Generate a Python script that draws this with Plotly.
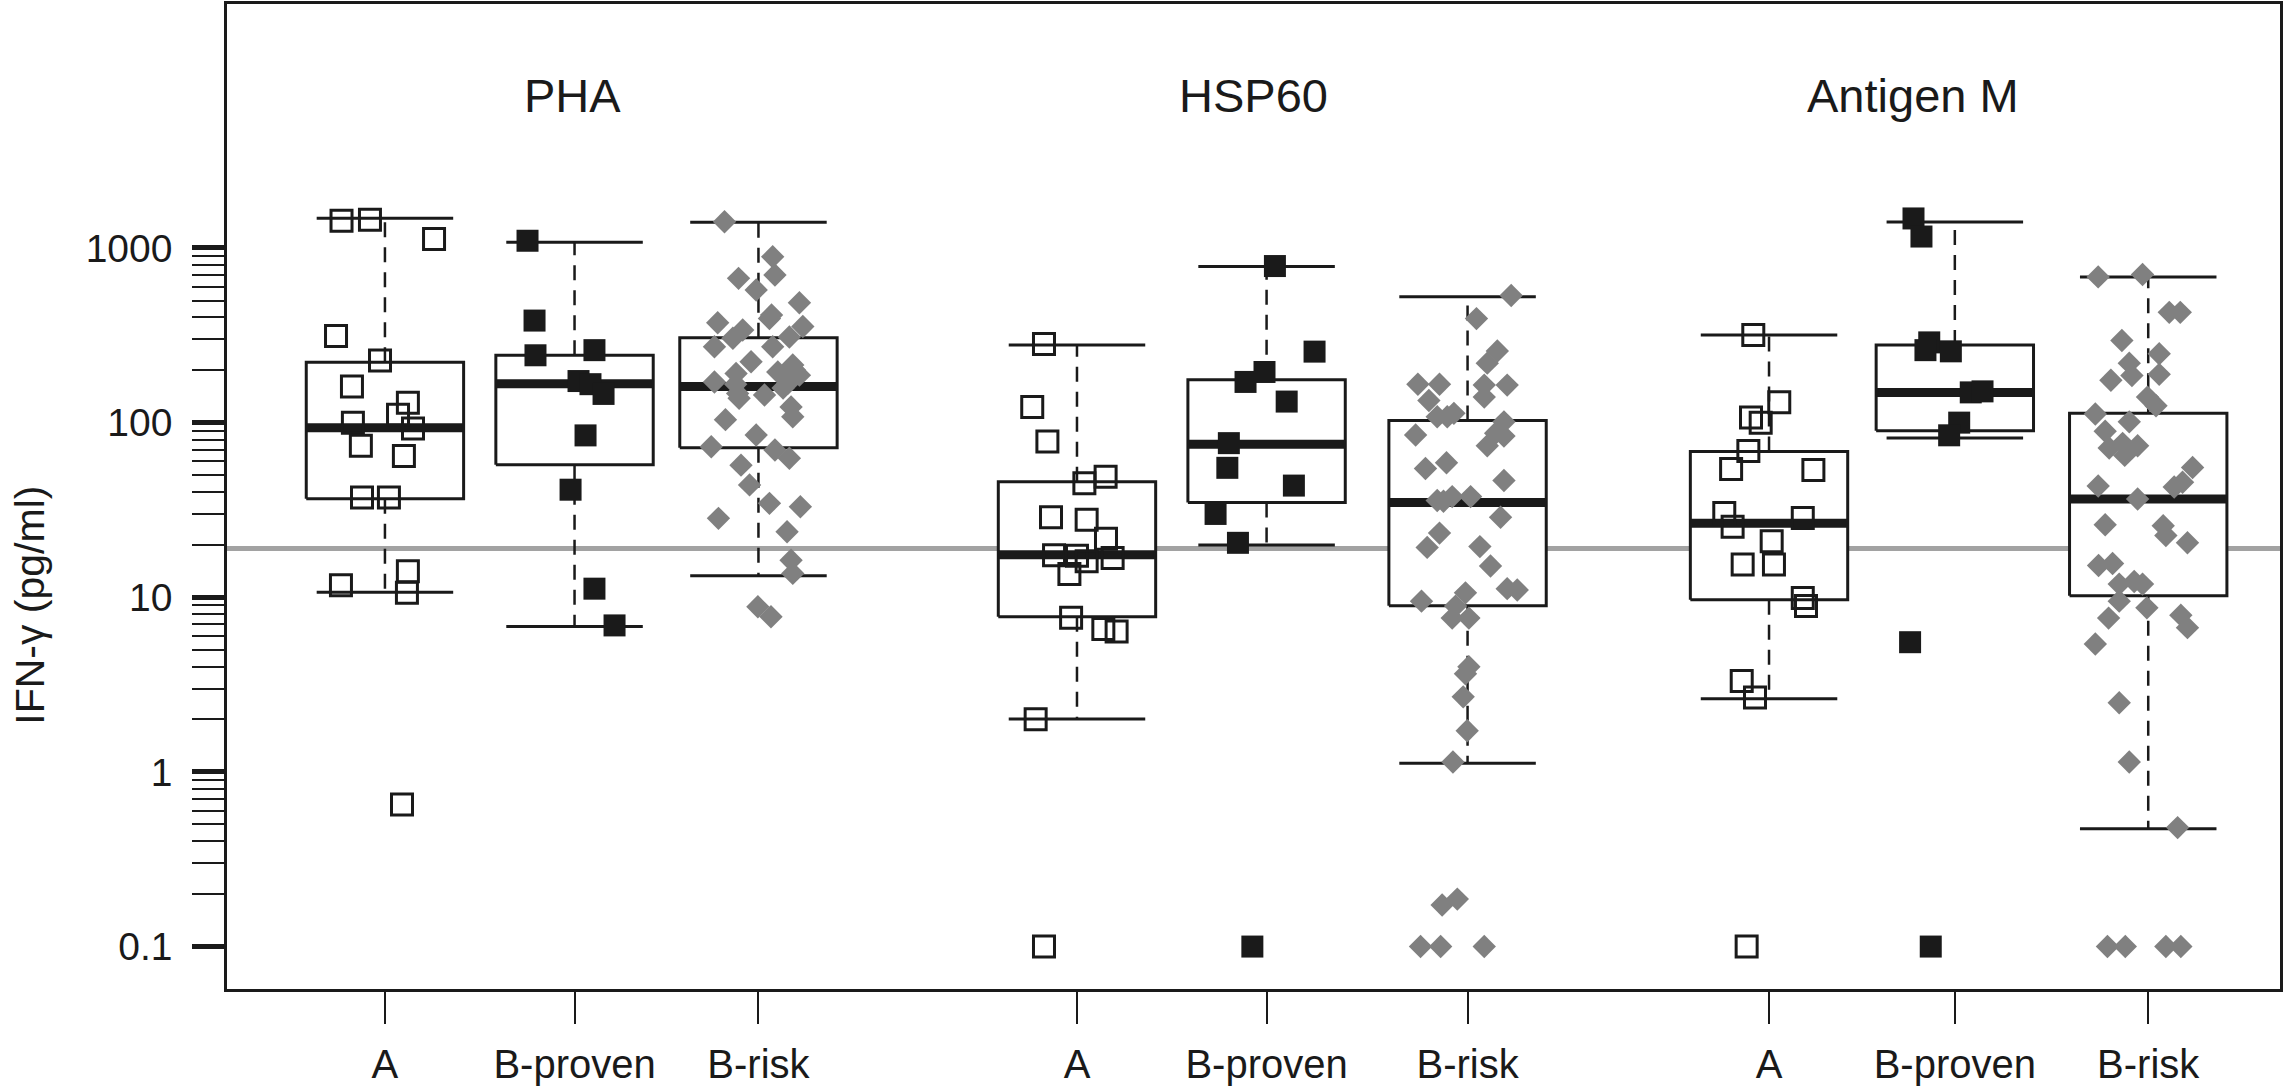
import plotly.graph_objects as go

stimuli = ["PHA", "HSP60", "Antigen M"]
groups = ["A", "B-proven", "B-risk"]
tick_labels = groups * 3
positions = [1.0, 2.0, 2.97, 4.65, 5.65, 6.71, 8.30, 9.28, 10.30]

# box statistics (pg/ml)
whisker_lo = [10.7, 6.8, 13.3, 2.01, 19.95, 1.12, 2.62, 81.7, 0.472]
q1 = [36.6, 57.3, 71.8, 7.73, 34.9, 8.94, 9.68, 89.8, 10.2]
median = [93.6, 167, 161, 17.5, 75.3, 34.9, 26.5, 149, 36.5]
q3 = [222, 243, 306, 45.8, 176, 103, 68.4, 278, 113]
whisker_hi = [1480, 1080, 1404, 278, 784, 525, 317, 1410, 683]

threshold = 19

# individual values and their horizontal jitter
pha_a = [1430, 1450, 1125, 313, 227, 161, 130, 111, 92.6, 100, 73.8, 64.4, 37.3, 37.3, 11.7, 14.1, 10.6, 0.65]
pha_a_jit = [-0.229, -0.079, 0.259, -0.258, -0.026, -0.174, 0.121, 0.069, 0.148, -0.169, -0.127, 0.100, -0.121, 0.021, -0.232, 0.121, 0.116, 0.090]

pha_bp = [1100, 384, 243, 260, 173, 166, 146, 84.5, 41.3, 11.2, 6.9]
pha_bp_jit = [-0.248, -0.211, -0.206, 0.105, 0.021, 0.084, 0.153, 0.058, -0.021, 0.105, 0.211]

pha_br = [1413, 891, 700, 670, 575, 486, 373, 395, 413, 355, 339, 304, 272, 309, 272, 223, 191, 171,
          214, 195, 187, 168, 147, 144, 138, 123, 108, 104, 84.9, 72.8, 69.7, 62.5, 57.1, 44.0, 34.5,
          33.0, 28.3, 23.7, 16.3, 13.7, 8.83, 7.73, 200, 158, 166]
pha_br_jit = [-0.179, 0.075, 0.087, -0.105, -0.012, 0.216, -0.215, 0.058, 0.069, 0.234, -0.083, -0.135,
              -0.232, 0.163, 0.075, -0.039, -0.118, -0.232, 0.181, 0.102, 0.216, 0.155, -0.110, 0.032,
              -0.102, 0.172, 0.181, -0.174, -0.012, -0.249, 0.087, 0.163, -0.092, -0.047, 0.058, 0.221,
              -0.211, 0.151, 0.172, 0.181, -0.003, 0.066, 0.190, 0.130, -0.120]

hsp_a = [282, 123, 78, 44.9, 49, 28.7, 27.8, 21.6, 17.4, 17.3, 16.1, 16.8, 13.6, 7.63, 6.58, 6.36, 2.0, 0.1]
hsp_a_jit = [-0.174, -0.236, -0.156, 0.039, 0.151, -0.137, 0.051, 0.153, -0.121, 0.0, 0.051, 0.188, -0.040, -0.031, 0.139, 0.209, -0.218, -0.174]

hsp_bp = [788, 255, 195, 171, 132, 76.3, 55.1, 43.6, 30, 20.5, 0.1]
hsp_bp_jit = [0.044, 0.253, -0.011, -0.111, 0.106, -0.199, -0.207, 0.144, -0.269, -0.151, -0.075]

hsp_br = [534, 394, 257, 219, 166, 166, 164, 164, 134, 140, 108, 113, 101, 84.9, 83.7, 73.7, 54.6, 58.9,
          46.6, 35.8, 37.7, 37.7, 28.7, 23.3, 19.3, 19.5, 15.1, 11.2, 11.0, 9.5, 10.6, 8.9, 7.6, 7.6,
          4.0, 3.65, 2.69, 1.72, 1.14, 0.187, 0.173, 0.1, 0.1, 0.1, 108, 35.5, 87]
hsp_br_jit = [0.230, 0.047, 0.157, 0.104, -0.262, -0.148, 0.088, 0.209, -0.204, 0.088, -0.160, -0.072,
              0.192, -0.274, 0.192, 0.104, -0.222, -0.111, 0.192, -0.160, -0.081, 0.016, 0.174, -0.148,
              -0.213, 0.065, 0.121, 0.209, 0.262, -0.243, -0.011, -0.063, -0.081, 0.007, 0.007, -0.011,
              -0.023, -0.002, -0.077, -0.054, -0.134, -0.248, -0.142, 0.088, -0.107, -0.127, 0.148]

agm_a = [317, 131, 107, 100, 68.9, 54.2, 53.5, 30.4, 25.3, 28.4, 20.9, 15.4, 15.4, 9.89, 8.9, 3.32, 2.67, 0.1]
agm_a_jit = [-0.083, 0.054, -0.095, -0.044, -0.109, -0.200, 0.234, -0.236, -0.192, 0.178, 0.014, -0.139, 0.026, 0.178, 0.195, -0.144, -0.074, -0.118]

agm_bp = [1476, 1163, 288, 256, 260, 149, 151, 100, 84.6, 5.53, 0.1]
agm_bp_jit = [-0.218, -0.176, -0.135, -0.021, -0.155, 0.084, 0.146, 0.023, -0.030, -0.236, -0.127]

agm_br = [683, 705, 428, 428, 295, 248, 219, 186, 189, 175, 140, 125, 112, 101, 89.3, 71.5, 76.1, 73.7,
          64.9, 55.3, 45.6, 43.4, 42.8, 36.5, 26.0, 25.7, 22.6, 20.5, 15.2, 15.6, 11.9, 12.3, 11.9, 9.5,
          8.7, 7.6, 7.9, 6.7, 5.4, 2.49, 1.14, 0.48, 0.1, 0.1, 0.1, 0.1]
agm_br_jit = [-0.264, -0.030, 0.111, 0.169, -0.139, 0.058, -0.100, -0.086, 0.058, -0.197, -0.004, 0.041,
              -0.279, -0.100, -0.227, -0.206, -0.135, -0.056, -0.124, 0.234, 0.181, -0.264, 0.137, -0.056,
              -0.227, 0.079, 0.093, 0.207, -0.262, -0.188, -0.153, -0.074, -0.030, -0.153, -0.007, -0.209,
              0.172, 0.207, -0.279, -0.153, -0.100, 0.155, -0.215, -0.121, 0.093, 0.172]

points = [
    (pha_a, pha_a_jit), (pha_bp, pha_bp_jit), (pha_br, pha_br_jit),
    (hsp_a, hsp_a_jit), (hsp_bp, hsp_bp_jit), (hsp_br, hsp_br_jit),
    (agm_a, agm_a_jit), (agm_bp, agm_bp_jit), (agm_br, agm_br_jit),
]

font = "Liberation Sans, Arial, sans-serif"
ink = "#1a1a1a"
x_range = [0.167, 10.995]
box_half = 0.415
cap_half = 0.36

marker_styles = [
    dict(symbol="square-open", size=21, color=ink, line=dict(width=3, color=ink)),
    dict(symbol="square", size=22, color=ink, line=dict(width=0)),
    dict(symbol="diamond", size=18, color="#808080", line=dict(width=0)),
]

fig = go.Figure()

# reference line
fig.add_trace(go.Scatter(x=x_range, y=[threshold, threshold], mode="lines",
                         line=dict(color="#a2a2a2", width=5), hoverinfo="skip"))

# boxes (white filled)
for i, p in enumerate(positions):
    fig.add_trace(go.Scatter(
        x=[p - box_half, p + box_half, p + box_half, p - box_half, p - box_half],
        y=[q1[i], q1[i], q3[i], q3[i], q1[i]],
        mode="lines", fill="toself", fillcolor="white",
        line=dict(color=ink, width=3), hoverinfo="skip"))

# dashed whiskers
wx, wy = [], []
for i, p in enumerate(positions):
    wx += [p, p, None, p, p, None]
    wy += [q3[i], whisker_hi[i], None, q1[i], whisker_lo[i], None]
fig.add_trace(go.Scatter(x=wx, y=wy, mode="lines",
                         line=dict(color=ink, width=2.5, dash="15px,10px"), hoverinfo="skip"))

# whisker caps
cx, cy = [], []
for i, p in enumerate(positions):
    cx += [p - cap_half, p + cap_half, None, p - cap_half, p + cap_half, None]
    cy += [whisker_hi[i], whisker_hi[i], None, whisker_lo[i], whisker_lo[i], None]
fig.add_trace(go.Scatter(x=cx, y=cy, mode="lines", line=dict(color=ink, width=3), hoverinfo="skip"))

# medians
mx, my = [], []
for i, p in enumerate(positions):
    mx += [p - box_half, p + box_half, None]
    my += [median[i], median[i], None]
fig.add_trace(go.Scatter(x=mx, y=my, mode="lines", line=dict(color=ink, width=9), hoverinfo="skip"))

# individual points
for i, (vals, jit) in enumerate(points):
    fig.add_trace(go.Scatter(
        x=[positions[i] + j for j in jit], y=vals, mode="markers",
        marker=marker_styles[i % 3], name=f"{stimuli[i // 3]} {groups[i % 3]}"))

# stimulus titles
for name, xpos in zip(stimuli, [1.99, 5.58, 9.06]):
    fig.add_annotation(x=xpos, y=0.9076, xref="x", yref="paper", text=name, showarrow=False,
                       xanchor="center", yanchor="middle", font=dict(family=font, size=47, color=ink))

fig.add_annotation(x=-0.096, y=0.39, xref="paper", yref="paper", text="IFN-γ (pg/ml)",
                   textangle=-90, showarrow=False, xanchor="center", yanchor="middle",
                   font=dict(family=font, size=41, color=ink))

minor_ticks = [m * 10.0 ** e for e in range(-1, 3) for m in range(2, 10)]

fig.update_layout(
    width=2287, height=1090,
    margin=dict(l=227, r=7, t=4, b=101),
    paper_bgcolor="white", plot_bgcolor="white",
    showlegend=False,
    xaxis=dict(
        range=x_range, tickmode="array", tickvals=positions, ticktext=tick_labels,
        ticks="outside", ticklen=32, tickwidth=2, tickcolor=ink,
        showline=True, mirror=True, linecolor=ink, linewidth=2.5,
        showgrid=False, zeroline=False, ticklabelstandoff=6, automargin=False,
        tickfont=dict(family=font, size=40, color=ink),
    ),
    yaxis=dict(
        type="log", range=[-1.243, 4.397],
        tickmode="array", tickvals=[0.1, 1, 10, 100, 1000],
        ticktext=["0.1", "1", "10", "100", "1000"],
        ticks="outside", ticklen=32, tickwidth=5, tickcolor=ink,
        minor=dict(tickmode="array", tickvals=minor_ticks, ticks="outside",
                   ticklen=32, tickwidth=2, tickcolor=ink, showgrid=False),
        showline=True, mirror=True, linecolor=ink, linewidth=2.5,
        showgrid=False, zeroline=False, ticklabelstandoff=12, automargin=False,
        tickfont=dict(family=font, size=39, color=ink),
    ),
)

# page body has a default margin; drop it so the figure sits at the window origin
fig.write_html("out.html", config={"displayModeBar": False},
               post_script="document.body.style.margin='0';document.body.style.overflow='hidden';")
